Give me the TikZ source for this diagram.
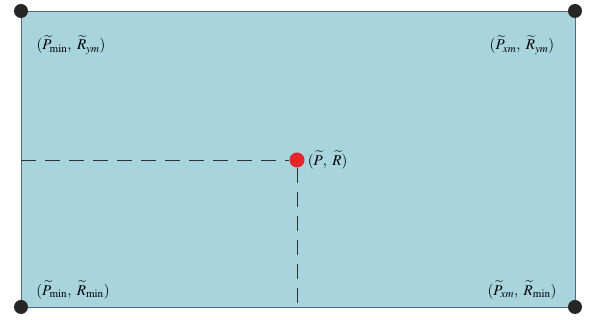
\documentclass[tikz,border=0pt]{standalone}
\usepackage{mathptmx}
\usepackage{fontspec}
\setmainfont{Liberation Serif}
\definecolor{boxfill}{HTML}{A8D4DE}
\definecolor{boxline}{HTML}{4A6A80}
\definecolor{ptred}{HTML}{E8232A}
\tikzset{
  corner/.style={circle, fill=black!85, inner sep=0pt, minimum size=14pt},
  target/.style={circle, fill=ptred, inner sep=0pt, minimum size=15pt},
  lbl/.style={font=\fontsize{15}{18}\selectfont, inner sep=1pt},
  guide/.style={thick, black!80, dash pattern=on 15pt off 9pt}
}
\begin{document}
\begin{tikzpicture}[x=1pt, y=1pt]
  \useasboundingbox (0, 0) rectangle (590, 320);
  \draw[boxline, fill=boxfill] (21, 13) rectangle (575, 309);
  % corners
  \foreach \name/\px/\py in {ll/21/13, lr/575/13, ul/21/309, ur/575/309} {
    \node[corner] (\name) at (\px, \py) {};
  }
  \node[lbl] (tl) at (71, 275) {$(\widetilde{P}_{\min},\ \widetilde{R}_{ym})$};
  \node[lbl] (tr) at (522, 275) {$(\widetilde{P}_{xm},\ \widetilde{R}_{ym})$};
  \node[lbl] (bl) at (73, 30) {$(\widetilde{P}_{\min},\ \widetilde{R}_{\min})$};
  \node[lbl] (br) at (522, 30) {$(\widetilde{P}_{xm},\ \widetilde{R}_{\min})$};
  % point and guides
  \node[target] (pr) at (297, 160) {};
  \coordinate (pleft) at (21, 160);
  \coordinate (pbot) at (297, 13);
  \draw[guide] (pleft) -- (pr.west);
  \draw[guide] (pr.south) -- (pbot);
  \node[lbl, right] (prlbl) at ([xshift=2pt]pr.east) {$(\widetilde{P},\ \widetilde{R})$};
\end{tikzpicture}
\end{document}
